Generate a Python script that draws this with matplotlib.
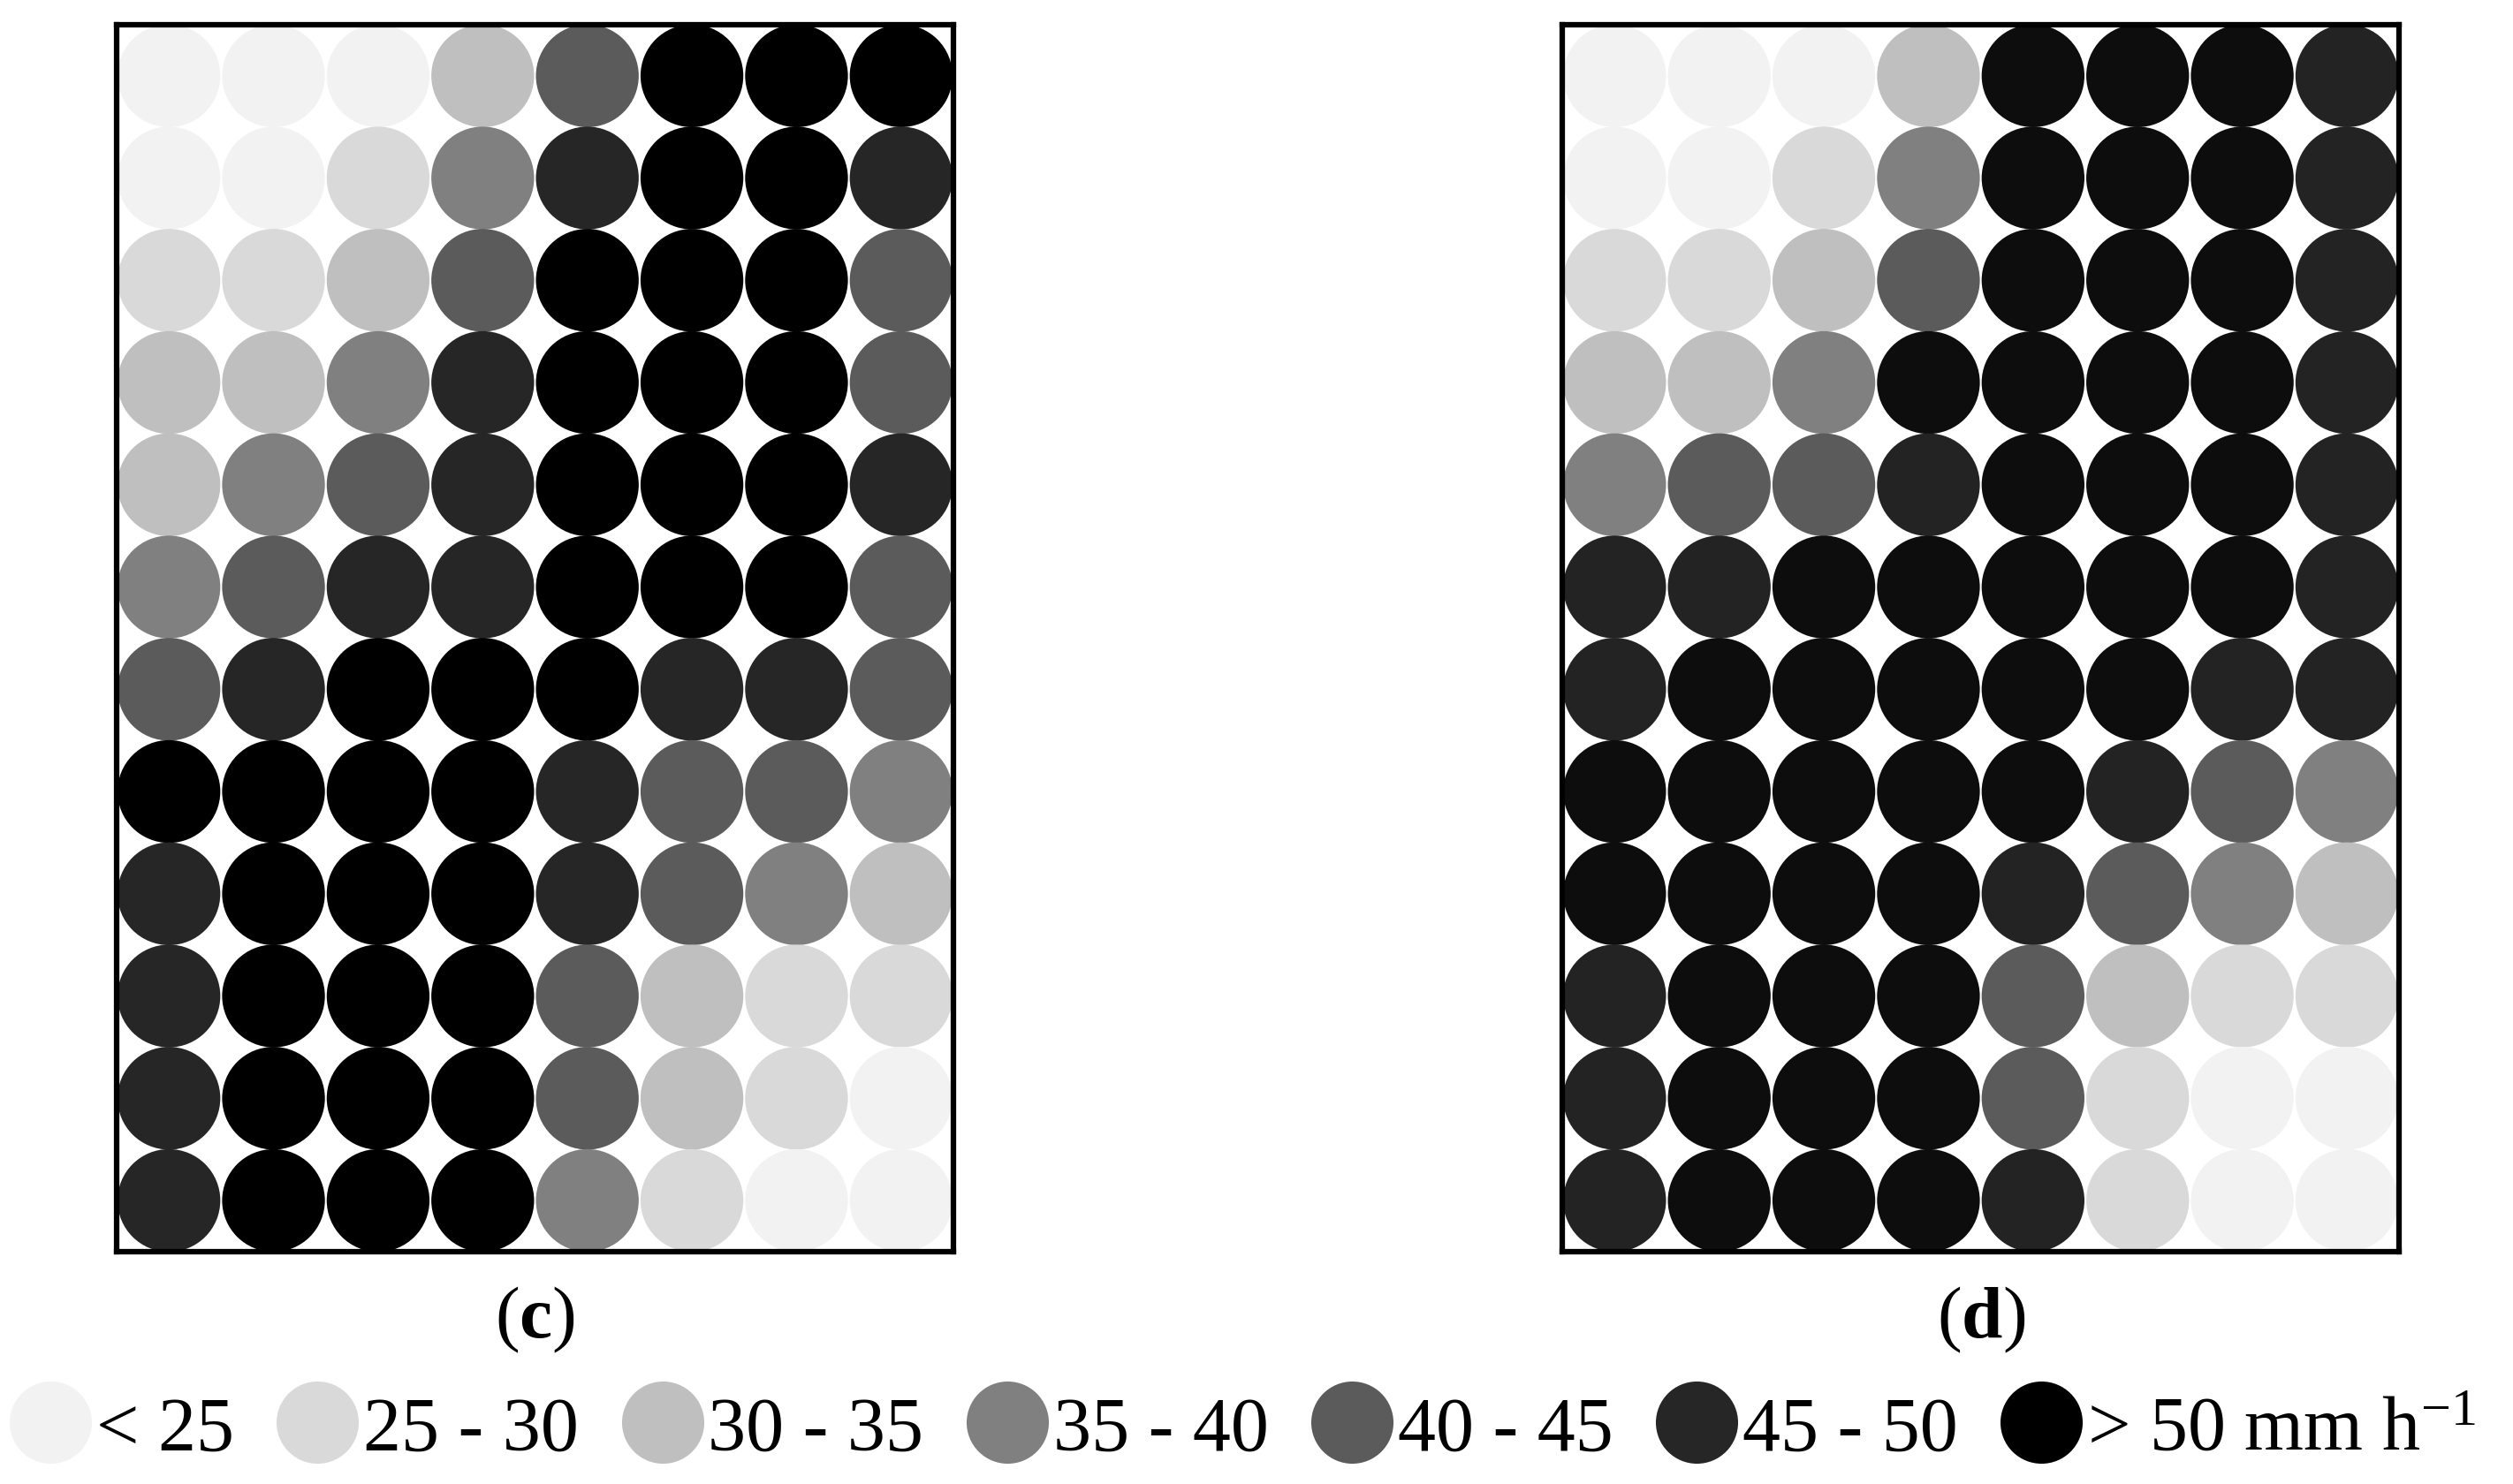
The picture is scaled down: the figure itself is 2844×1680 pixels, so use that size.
import matplotlib
matplotlib.use("Agg")
import matplotlib.pyplot as plt
from matplotlib.lines import Line2D
import numpy as np

plt.rcParams['font.family'] = ['Liberation Serif', 'DejaVu Serif']
plt.rcParams['mathtext.fontset'] = 'custom'
plt.rcParams['mathtext.rm'] = 'Liberation Serif'
plt.rcParams['mathtext.it'] = 'Liberation Serif:italic'
plt.rcParams['mathtext.bf'] = 'Liberation Serif:bold'

# intensity classes (mm h-1) and their grey shades
classes = ['< 25', '25 - 30', '30 - 35', '35 - 40', '40 - 45', '45 - 50',
           '> 50 mm h$^{-1}$']
grays_c = ['#f2f2f2', '#d9d9d9', '#bfbfbf', '#808080', '#5b5b5b', '#262626', '#000000']
grays_d = ['#f2f2f2', '#d9d9d9', '#bfbfbf', '#808080', '#5b5b5b', '#232323', '#0d0d0d']

# class index per emitter, rows top -> bottom, 8 columns
grid_c = [
    [0, 0, 0, 2, 4, 6, 6, 6],
    [0, 0, 1, 3, 5, 6, 6, 5],
    [1, 1, 2, 4, 6, 6, 6, 4],
    [2, 2, 3, 5, 6, 6, 6, 4],
    [2, 3, 4, 5, 6, 6, 6, 5],
    [3, 4, 5, 5, 6, 6, 6, 4],
    [4, 5, 6, 6, 6, 5, 5, 4],
    [6, 6, 6, 6, 5, 4, 4, 3],
    [5, 6, 6, 6, 5, 4, 3, 2],
    [5, 6, 6, 6, 4, 2, 1, 1],
    [5, 6, 6, 6, 4, 2, 1, 0],
    [5, 6, 6, 6, 3, 1, 0, 0],
]
grid_d = [
    [0, 0, 0, 2, 6, 6, 6, 5],
    [0, 0, 1, 3, 6, 6, 6, 5],
    [1, 1, 2, 4, 6, 6, 6, 5],
    [2, 2, 3, 6, 6, 6, 6, 5],
    [3, 4, 4, 5, 6, 6, 6, 5],
    [5, 5, 6, 6, 6, 6, 6, 5],
    [5, 6, 6, 6, 6, 6, 5, 5],
    [6, 6, 6, 6, 6, 5, 4, 3],
    [6, 6, 6, 6, 5, 4, 3, 2],
    [5, 6, 6, 6, 4, 2, 1, 1],
    [5, 6, 6, 6, 4, 1, 0, 0],
    [5, 6, 6, 6, 5, 1, 0, 0],
]
panel_labels = ['c', 'd']

fig = plt.figure(figsize=(28.44, 16.81), dpi=100)
ax_c = fig.add_axes([0.0464, 0.1565, 0.3330, 0.8263])
ax_d = fig.add_axes([0.6217, 0.1565, 0.3330, 0.8263])


def draw_panel(ax, grid, grays, label):
    g = np.array(grid)
    nrow, ncol = g.shape
    rr, cc = np.indices(g.shape)
    x = cc.ravel() + 0.5
    y = (nrow - 1 - rr).ravel() + 0.5
    cols = [grays[k] for k in g.ravel()]
    ax.set_xlim(0, ncol)
    ax.set_ylim(0, nrow)
    # marker diameter = one cell height, in points
    bb = ax.get_position()
    cell_h = bb.height * fig.get_figheight() * 72 / nrow
    cell_w = bb.width * fig.get_figwidth() * 72 / ncol
    d = min(cell_h, cell_w) * 1.005
    ax.scatter(x, y, s=d ** 2, c=cols, linewidths=0, zorder=2)
    ax.set_xticks([])
    ax.set_yticks([])
    for sp in ax.spines.values():
        sp.set_linewidth(4.5)
    fig.text(bb.x0 + bb.width / 2, 0.111, '($\\mathbf{%s}$)' % label,
             ha='center', va='center', fontsize=60)


draw_panel(ax_c, grid_c, grays_c, panel_labels[0])
draw_panel(ax_d, grid_d, grays_d, panel_labels[1])

handles = [Line2D([], [], ls='', marker='o', markersize=67, markerfacecolor=g,
                  markeredgewidth=0) for g in grays_c]
fig.legend(handles, classes, loc='center', bbox_to_anchor=(0.495, 0.036),
           ncol=7, frameon=False, fontsize=62, handlelength=1.0,
           handletextpad=0.1, columnspacing=0.6, borderpad=0, borderaxespad=0)

fig.savefig('out.png', dpi=100, facecolor='white')
